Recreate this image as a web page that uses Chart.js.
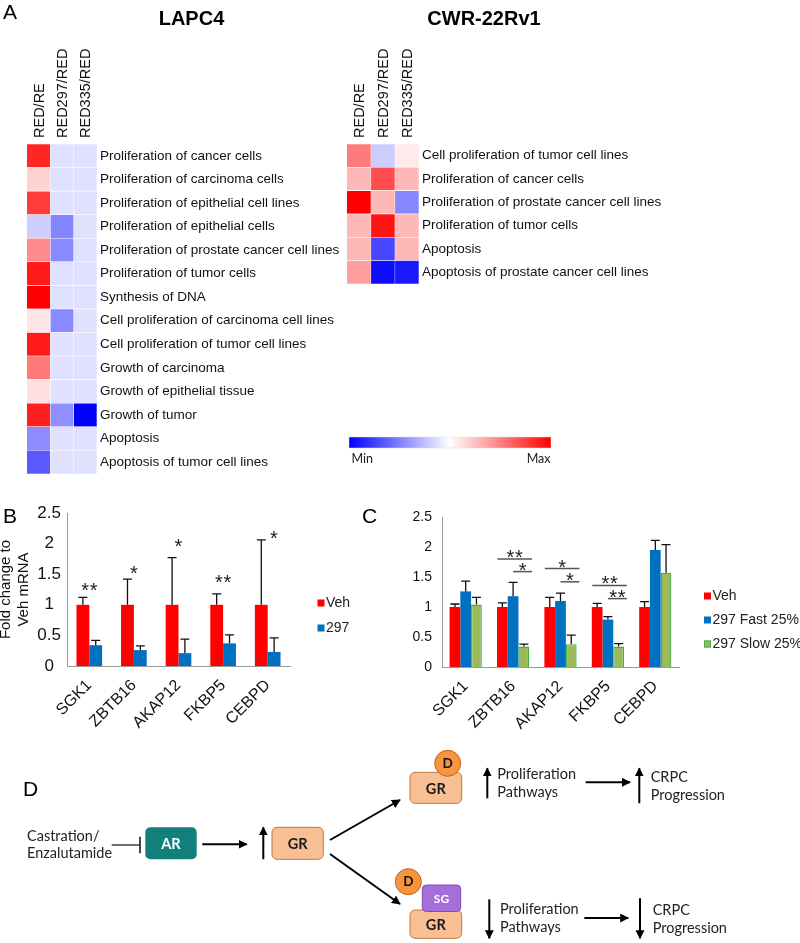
<!DOCTYPE html>
<html lang="en">
<head>
<meta charset="UTF-8">
<title>GR pathway figure</title>
<script src="https://cdn.jsdelivr.net/npm/chart.js"></script>
<style>
    * { margin: 0; padding: 0; box-sizing: border-box; }
    body { width: 800px; height: 943px; background: #fff; position: relative; overflow: hidden; font-family: 'Liberation Sans', Arial, sans-serif; }
    .panel { position: absolute; }
    #overlay { position: absolute; left: 0; top: 0; font-family: 'Liberation Sans', Arial, sans-serif; }
    #overlay .cal { font-family: Lato, 'Open Sans', sans-serif; }
</style>
</head>
<body>

<div class="panel" style="left:0;top:40px;width:370px;height:445px"><canvas id="lapcHeat"></canvas></div>
<div class="panel" style="left:320px;top:40px;width:480px;height:255px"><canvas id="cwrHeat"></canvas></div>
<div class="panel" style="left:0;top:490px;width:360px;height:245px"><canvas id="chartB"></canvas></div>
<div class="panel" style="left:360px;top:490px;width:440px;height:245px"><canvas id="chartC"></canvas></div>

<svg id="overlay" width="800" height="943">
    <defs>
        <linearGradient id="heatScale" x1="0" x2="1" y1="0" y2="0">
            <stop offset="0" stop-color="#0000ff"/>
            <stop offset="0.5" stop-color="#ffffff"/>
            <stop offset="1" stop-color="#ff0000"/>
        </linearGradient>
        <marker id="ah" viewBox="0 0 10 10" refX="9" refY="5" markerWidth="4.5" markerHeight="4.5" orient="auto">
            <path d="M0,0 L10,5 L0,10 z" fill="#000"/>
        </marker>
    </defs>

    <!-- panel letters and titles -->
    <text x="3" y="18.5" font-size="21">A</text>
    <text x="3" y="523" font-size="21">B</text>
    <text x="362" y="523" font-size="21">C</text>
    <text x="23" y="796" font-size="21">D</text>
    <text x="191.5" y="25" font-size="20" font-weight="bold" text-anchor="middle">LAPC4</text>
    <text x="484" y="25" font-size="20" font-weight="bold" text-anchor="middle">CWR-22Rv1</text>

    <!-- colour scale -->
    <rect x="349" y="437" width="202" height="11" fill="url(#heatScale)" stroke="#ddd" stroke-width="0.5"/>
    <text class="cal" x="351.5" y="463" font-size="12.5" fill="#222">Min</text>
    <text class="cal" x="550.5" y="463" font-size="12.5" fill="#222" text-anchor="end">Max</text>

    <!-- D: diagram -->
    <g class="cal" font-size="14.5" fill="#222">
        <text x="27" y="841">Castration/</text>
        <text x="27" y="858">Enzalutamide</text>
        <text x="497.3" y="779">Proliferation</text>
        <text x="497.3" y="797">Pathways</text>
        <text x="650.7" y="781.7">CRPC</text>
        <text x="650.7" y="799.5">Progression</text>
        <text x="500" y="914">Proliferation</text>
        <text x="500" y="931.7">Pathways</text>
        <text x="652.7" y="915">CRPC</text>
        <text x="652.7" y="932.7">Progression</text>
    </g>

    <line x1="111.7" y1="845" x2="140" y2="845" stroke="#333" stroke-width="1.4"/>
    <line x1="140" y1="836.7" x2="140" y2="853.3" stroke="#333" stroke-width="1.8"/>

    <rect x="145.3" y="827.3" width="51.4" height="32" rx="5" fill="#11807a"/>
    <text class="cal" x="171" y="848.5" font-size="14.5" font-weight="bold" fill="#fff" text-anchor="middle">AR</text>

    <rect x="272" y="827.3" width="51.3" height="32" rx="5" fill="#f9bf94" stroke="#c4783e" stroke-width="1"/>
    <text class="cal" x="297.7" y="848.5" font-size="14.5" font-weight="bold" fill="#1a1a1a" text-anchor="middle">GR</text>

    <rect x="410" y="772.3" width="51.7" height="31" rx="5" fill="#f9bf94" stroke="#c4783e" stroke-width="1"/>
    <text class="cal" x="435.8" y="794" font-size="14.5" font-weight="bold" fill="#1a1a1a" text-anchor="middle">GR</text>
    <circle cx="447.7" cy="763.3" r="13" fill="#f7953f" stroke="#c1601f" stroke-width="1"/>
    <text class="cal" x="447.7" y="768" font-size="13.5" font-weight="bold" fill="#111" text-anchor="middle">D</text>

    <rect x="410" y="910" width="51.7" height="28.3" rx="5" fill="#f9bf94" stroke="#c4783e" stroke-width="1"/>
    <text class="cal" x="435.8" y="929.5" font-size="14.5" font-weight="bold" fill="#1a1a1a" text-anchor="middle">GR</text>
    <rect x="422.3" y="885" width="38.4" height="26.5" rx="4" fill="#a46fd8" stroke="#7f4db5" stroke-width="1"/>
    <text class="cal" x="441.5" y="902.5" font-size="12" font-weight="bold" fill="#fff" text-anchor="middle">SG</text>
    <circle cx="408.3" cy="881.7" r="13" fill="#f7953f" stroke="#c1601f" stroke-width="1"/>
    <text class="cal" x="408.3" y="886.4" font-size="13.5" font-weight="bold" fill="#111" text-anchor="middle">D</text>

    <g stroke="#000" stroke-width="2" marker-end="url(#ah)">
        <line x1="202.3" y1="844.3" x2="246.7" y2="844.3"/>
        <line x1="263.3" y1="859.3" x2="263.3" y2="827.3"/>
        <line x1="330" y1="840" x2="400" y2="800"/>
        <line x1="330" y1="854" x2="400" y2="904"/>
        <line x1="487.3" y1="798.3" x2="487.3" y2="768.3"/>
        <line x1="585.7" y1="782.3" x2="630" y2="782.3"/>
        <line x1="639.3" y1="803.3" x2="639.3" y2="768.3"/>
        <line x1="489.3" y1="899.3" x2="489.3" y2="938.3"/>
        <line x1="584.3" y1="918" x2="628.3" y2="918"/>
        <line x1="640" y1="898.3" x2="640" y2="938.3"/>
    </g>
</svg>

<script>
    // ---------- A: heatmap data (-1 = Min/blue, 0 = white, 1 = Max/red) ----------
    const heatCols = ['RED/RE', 'RED297/RED', 'RED335/RED'];

    const lapcRows = [
        'Proliferation of cancer cells', 'Proliferation of carcinoma cells',
        'Proliferation of epithelial cell lines', 'Proliferation of epithelial cells',
        'Proliferation of prostate cancer cell lines', 'Proliferation of tumor cells',
        'Synthesis of DNA', 'Cell proliferation of carcinoma cell lines',
        'Cell proliferation of tumor cell lines', 'Growth of carcinoma',
        'Growth of epithelial tissue', 'Growth of tumor', 'Apoptosis',
        'Apoptosis of tumor cell lines'
    ];
    const lapcRE  = [0.85, 0.18, 0.77, -0.19, 0.45, 0.9, 1.0, 0.1, 0.9, 0.53, 0.12, 0.88, -0.45, -0.65];
    const lapc297 = [-0.12, -0.12, -0.12, -0.48, -0.46, -0.12, -0.12, -0.46, -0.12, -0.12, -0.12, -0.44, -0.12, -0.12];
    const lapc335 = [-0.12, -0.12, -0.12, -0.12, -0.12, -0.12, -0.12, -0.12, -0.12, -0.12, -0.12, -1.0, -0.12, -0.12];

    const cwrRows = [
        'Cell proliferation of tumor cell lines', 'Proliferation of cancer cells',
        'Proliferation of prostate cancer cell lines', 'Proliferation of tumor cells',
        'Apoptosis', 'Apoptosis of prostate cancer cell lines'
    ];
    const cwrRE  = [0.52, 0.28, 1.0, 0.28, 0.28, 0.38];
    const cwr297 = [-0.2, 0.7, 0.28, 0.92, -0.72, -0.95];
    const cwr335 = [0.08, 0.28, -0.47, 0.28, 0.28, -0.9];

    // ---------- B ----------
    const genes = ['SGK1', 'ZBTB16', 'AKAP12', 'FKBP5', 'CEBPD'];
    const bVeh = [1, 1, 1, 1, 1];
    const bVehErr = [0.12, 0.42, 0.77, 0.18, 1.06];
    const b297 = [0.34, 0.26, 0.21, 0.37, 0.23];
    const b297Err = [0.08, 0.07, 0.23, 0.14, 0.23];
    const bStars = ['**', '*', '*', '**', '*'];
    const bStarY = [1.31, 1.60, 2.04, 1.44, 2.16];

    // ---------- C ----------
    const cVeh = [1, 1, 1, 1, 1];
    const cVehErr = [0.05, 0.07, 0.16, 0.06, 0.09];
    const cFast = [1.26, 1.18, 1.10, 0.79, 1.95];
    const cFastErr = [0.17, 0.23, 0.13, 0.05, 0.16];
    const cSlow = [1.04, 0.34, 0.38, 0.34, 1.57];
    const cSlowErr = [0.12, 0.04, 0.15, 0.05, 0.47];
    // significance brackets: gene index, level, stars, long/short
    const cSigGene = [1, 1, 2, 2, 3, 3];
    const cSigY    = [1.80, 1.59, 1.64, 1.42, 1.36, 1.14];
    const cSigText = ['**', '*', '*', '*', '**', '**'];
    const cSigLong = [true, false, true, false, true, false];

    const RED = '#ff0000', BLUE = '#0070c0', GREEN = '#9bbb59', GREEN_EDGE = '#45ad45';

    Chart.defaults.font.family = "'Liberation Sans', Arial, sans-serif";
    Chart.defaults.color = '#111';

    function heatColor(v) {
        if (v >= 0) {
            const c = Math.round(255 * (1 - v));
            return `rgb(255,${c},${c})`;
        }
        const c = Math.round(255 * (1 + v));
        return `rgb(${c},${c},255)`;
    }

    // rotated column headers above the heat cells
    const colHeaders = {
        id: 'colHeaders',
        afterDraw(chart) {
            const {ctx, chartArea, scales: {x}} = chart;
            ctx.save();
            ctx.font = "14.5px 'Liberation Sans', Arial, sans-serif";
            ctx.fillStyle = '#111';
            ctx.textAlign = 'left';
            ctx.textBaseline = 'middle';
            heatCols.forEach((name, i) => {
                ctx.save();
                ctx.translate(x.getPixelForValue(i + 0.5) + 1, chartArea.top - 6);
                ctx.rotate(-Math.PI / 2);
                ctx.fillText(name, 0, 0);
                ctx.restore();
            });
            ctx.restore();
        }
    };

    function heatChart(id, rows, cols, pad, axisWidth) {
        return new Chart(document.getElementById(id), {
            type: 'bar',
            data: {
                labels: rows,
                datasets: cols.map((vals, i) => ({
                    label: heatCols[i],
                    data: vals.map(() => 1),
                    backgroundColor: vals.map(heatColor),
                    borderColor: 'rgba(255,255,255,0.8)',
                    borderWidth: 0.6,
                    barPercentage: 1,
                    categoryPercentage: 1
                }))
            },
            options: {
                indexAxis: 'y',
                responsive: true,
                maintainAspectRatio: false,
                animation: false,
                layout: { padding: pad },
                plugins: { legend: { display: false }, tooltip: { enabled: false } },
                scales: {
                    x: { stacked: true, min: 0, max: 3, display: false },
                    y: {
                        stacked: true, position: 'right',
                        grid: { display: false, drawTicks: false }, border: { display: false },
                        ticks: { autoSkip: false, padding: 3, color: '#111', font: { size: 13.5 } },
                        afterFit: s => { s.width = axisWidth; }
                    }
                }
            },
            plugins: [colHeaders]
        });
    }

    heatChart('lapcHeat', lapcRows, [lapcRE, lapc297, lapc335], { left: 27, top: 104, bottom: 6, right: 0 }, 273);
    heatChart('cwrHeat', cwrRows, [cwrRE, cwr297, cwr335], { left: 27, top: 104, bottom: 6, right: 0 }, 381);

    // ---------- bar chart helpers ----------
    const errorBars = {
        id: 'errorBars',
        afterDatasetsDraw(chart) {
            const {ctx, scales: {y}} = chart;
            ctx.save();
            ctx.strokeStyle = '#111';
            ctx.lineWidth = 1.3;
            chart.data.datasets.forEach((ds, i) => {
                chart.getDatasetMeta(i).data.forEach((bar, j) => {
                    const top = y.getPixelForValue(ds.data[j] + ds.errors[j]);
                    ctx.beginPath();
                    ctx.moveTo(bar.x, bar.y);
                    ctx.lineTo(bar.x, top);
                    ctx.moveTo(bar.x - 4.5, top);
                    ctx.lineTo(bar.x + 4.5, top);
                    ctx.stroke();
                });
            });
            ctx.restore();
        }
    };

    const sideLegend = {
        id: 'sideLegend',
        afterDraw(chart, args, opts) {
            const {ctx, chartArea} = chart;
            ctx.save();
            ctx.font = "14px 'Liberation Sans', Arial, sans-serif";
            ctx.textBaseline = 'middle';
            chart.data.datasets.forEach((ds, i) => {
                const x = chartArea.right + opts.dx;
                const y = chartArea.top + opts.dy + i * opts.gap;
                ctx.fillStyle = ds.backgroundColor;
                ctx.fillRect(x, y - 3.5, 7, 7);
                if (ds.borderWidth) {
                    ctx.strokeStyle = ds.borderColor;
                    ctx.lineWidth = 1;
                    ctx.strokeRect(x + 0.5, y - 3, 6, 6);
                }
                ctx.fillStyle = '#222';
                ctx.fillText(ds.label, x + 8.5, y);
            });
            ctx.restore();
        }
    };

    function drawStars(ctx, text, cx, cy) {
        const n = text.length;
        for (let k = 0; k < n; k++) {
            ctx.fillText('*', cx + (k - (n - 1) / 2) * 8.5, cy + 11.5);
        }
    }

    const starMarks = {
        id: 'starMarks',
        afterDatasetsDraw(chart, args, opts) {
            const {ctx, scales: {x, y}} = chart;
            const step = x.getPixelForValue(1) - x.getPixelForValue(0);
            ctx.save();
            ctx.font = "20px 'Liberation Sans', Arial, sans-serif";
            ctx.fillStyle = '#222';
            ctx.strokeStyle = '#555';
            ctx.lineWidth = 1.5;
            ctx.textAlign = 'center';
            ctx.textBaseline = 'alphabetic';
            (opts.stars || []).forEach(m => {
                drawStars(ctx, m.text, x.getPixelForValue(m.i) + m.shift * step, y.getPixelForValue(m.y));
            });
            (opts.brackets || []).forEach(m => {
                const cx = x.getPixelForValue(m.i);
                const x0 = cx + (m.long ? -0.33 : 0) * step, x1 = cx + 0.40 * step;
                const py = y.getPixelForValue(m.y);
                ctx.beginPath();
                ctx.moveTo(x0, py);
                ctx.lineTo(x1, py);
                ctx.stroke();
                drawStars(ctx, m.text, (x0 + x1) / 2, py - 6.5);
            });
            ctx.restore();
        }
    };

    function axisStyle() {
        return { grid: { display: false, drawTicks: false }, border: { color: '#9a9a9a', width: 1 } };
    }
    const plainTick = v => String(+v.toFixed(2));

    // ---------- B ----------
    new Chart(document.getElementById('chartB'), {
        type: 'bar',
        data: {
            labels: genes,
            datasets: [
                { label: 'Veh', data: bVeh, errors: bVehErr, backgroundColor: RED },
                { label: '297', data: b297, errors: b297Err, backgroundColor: BLUE }
            ]
        },
        options: {
            responsive: true,
            maintainAspectRatio: false,
            animation: false,
            layout: { padding: { top: 23, right: 70, left: 0, bottom: 0 } },
            datasets: { bar: { categoryPercentage: 0.575, barPercentage: 1 } },
            plugins: {
                legend: { display: false },
                tooltip: { enabled: false },
                sideLegend: { dx: 27.5, dy: 90, gap: 25 },
                starMarks: { stars: genes.map((g, i) => ({ i, text: bStars[i], y: bStarY[i], shift: g === 'CEBPD' ? 0.14 : 0 })) }
            },
            scales: {
                x: { ...axisStyle(), ticks: { minRotation: 45, maxRotation: 45, autoSkip: false, padding: 10, font: { size: 16 } },
                     afterFit: s => { s.height = 69; } },
                y: { ...axisStyle(), min: 0, max: 2.5,
                     ticks: { stepSize: 0.5, crossAlign: 'center', padding: 6, font: { size: 17 }, callback: plainTick },
                     title: { display: true, text: ['Fold change to', 'Veh mRNA'], font: { size: 15 }, color: '#111', padding: { top: -3, bottom: 0 } },
                     afterFit: s => { s.width = 67; } }
            }
        },
        plugins: [errorBars, sideLegend, starMarks]
    });

    // ---------- C ----------
    new Chart(document.getElementById('chartC'), {
        type: 'bar',
        data: {
            labels: genes,
            datasets: [
                { label: 'Veh', data: cVeh, errors: cVehErr, backgroundColor: RED },
                { label: '297 Fast 25%', data: cFast, errors: cFastErr, backgroundColor: BLUE },
                { label: '297 Slow 25%', data: cSlow, errors: cSlowErr, backgroundColor: GREEN, borderColor: GREEN_EDGE, borderWidth: 1.3 }
            ]
        },
        options: {
            responsive: true,
            maintainAspectRatio: false,
            animation: false,
            layout: { padding: { top: 27, right: 121, left: 0, bottom: 0 } },
            datasets: { bar: { categoryPercentage: 0.68, barPercentage: 1 } },
            plugins: {
                legend: { display: false },
                tooltip: { enabled: false },
                sideLegend: { dx: 25, dy: 79, gap: 24 },
                starMarks: { brackets: cSigGene.map((g, k) => ({ i: g, y: cSigY[k], text: cSigText[k], long: cSigLong[k] })) }
            },
            scales: {
                x: { ...axisStyle(), ticks: { minRotation: 45, maxRotation: 45, autoSkip: false, padding: 10, font: { size: 16 } },
                     afterFit: s => { s.height = 68; } },
                y: { ...axisStyle(), min: 0, max: 2.5,
                     ticks: { stepSize: 0.5, padding: 10, font: { size: 14 }, callback: plainTick },
                     afterFit: s => { s.width = 82; } }
            }
        },
        plugins: [errorBars, sideLegend, starMarks]
    });
</script>
</body>
</html>
